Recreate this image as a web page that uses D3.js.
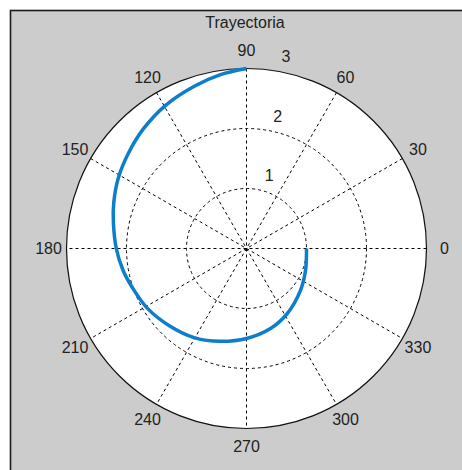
<!DOCTYPE html>
<html>
<head>
<meta charset="utf-8">
<script src="https://cdn.jsdelivr.net/npm/d3@7"></script>
<style>
  html, body { margin: 0; padding: 0; background: #ffffff; }
  svg { display: block; }
  text { font-family: "Liberation Sans", Arial, sans-serif; fill: #222; }
</style>
</head>
<body>
<svg id="chart" width="462" height="470"></svg>
<script>
// ---- data ----
const title = "Trayectoria";
// trajectory: angle in degrees, radius
const thetaDeg = [0, 339.5, 322, 302, 287, 270, 254, 240, 225, 211, 199, 190, 180, 169, 161, 151, 141, 131, 119.6, 108, 98.5, 90];
const radius   = [1.00, 1.05, 1.14, 1.28, 1.39, 1.50, 1.61, 1.72, 1.82, 1.93, 2.01, 2.09, 2.17, 2.26, 2.34, 2.44, 2.53, 2.63, 2.74, 2.84, 2.93, 3.00];
// grid
const rTicks = [1, 2, 3];
const angleTicks = [0, 30, 60, 90, 120, 150, 180, 210, 240, 270, 300, 330];
const spokeAngles = [0, 30, 60, 90, 120, 150];

// ---- layout ----
const svg = d3.select("#chart");
const W = 462, H = 470;
const cx = 246.5, cy = 248.5, R = 180;

const r = d3.scaleLinear().domain([0, 3]).range([0, R]);
const toRad = d => d * Math.PI / 180;
const px = (deg, v) => cx + r(v) * Math.cos(toRad(deg));
const py = (deg, v) => cy - r(v) * Math.sin(toRad(deg));

// background frame
svg.append("rect").attr("x", 0).attr("y", 0).attr("width", W).attr("height", H).attr("fill", "#ffffff");
svg.append("rect")
  .attr("x", 10.5).attr("y", 10.5).attr("width", W + 20).attr("height", H + 20)
  .attr("fill", "#cccccc").attr("stroke", "#1a1a1a").attr("stroke-width", 1.6);

// white polar disc
svg.append("circle").attr("cx", cx).attr("cy", cy).attr("r", r(3))
  .attr("fill", "#ffffff").attr("stroke", "none");

// spokes
svg.append("g").selectAll("line").data(spokeAngles).join("line")
  .attr("x1", d => px(d, 3)).attr("y1", d => py(d, 3))
  .attr("x2", d => px(d + 180, 3)).attr("y2", d => py(d + 180, 3))
  .attr("stroke", "#000").attr("stroke-width", 1)
  .attr("stroke-dasharray", "3,3");

// dashed inner circles
svg.append("g").selectAll("circle").data(rTicks.slice(0, -1)).join("circle")
  .attr("cx", cx).attr("cy", cy).attr("r", d => r(d))
  .attr("fill", "none").attr("stroke", "#000").attr("stroke-width", 1)
  .attr("stroke-dasharray", "3,3");

// outer solid circle
svg.append("circle").attr("cx", cx).attr("cy", cy).attr("r", r(3))
  .attr("fill", "none").attr("stroke", "#111").attr("stroke-width", 1.2);

// radial tick labels (at 82 degrees)
svg.append("g").selectAll("text").data(rTicks).join("text")
  .attr("x", d => px(82, d) + 10).attr("y", d => py(82, d) - 8)
  .attr("text-anchor", "start")
  .attr("font-size", 16)
  .text(d => d);

// angle labels
svg.append("g").selectAll("text").data(angleTicks).join("text")
  .attr("x", d => px(d, 3.3)).attr("y", d => py(d, 3.3))
  .attr("text-anchor", "middle").attr("dominant-baseline", "central")
  .attr("font-size", 16)
  .text(d => d);

// trajectory
const pts = thetaDeg.map((t, i) => [px(t, radius[i]), py(t, radius[i])]);
svg.append("path")
  .attr("d", d3.line().curve(d3.curveCatmullRom.alpha(0.5))(pts))
  .attr("fill", "none").attr("stroke", "#0b7fcb").attr("stroke-width", 3.5)
  .attr("stroke-linejoin", "round").attr("stroke-linecap", "butt");

// title
svg.append("text").attr("x", 245).attr("y", 28)
  .attr("text-anchor", "middle").attr("font-size", 16)
  .text(title);
</script>
</body>
</html>
